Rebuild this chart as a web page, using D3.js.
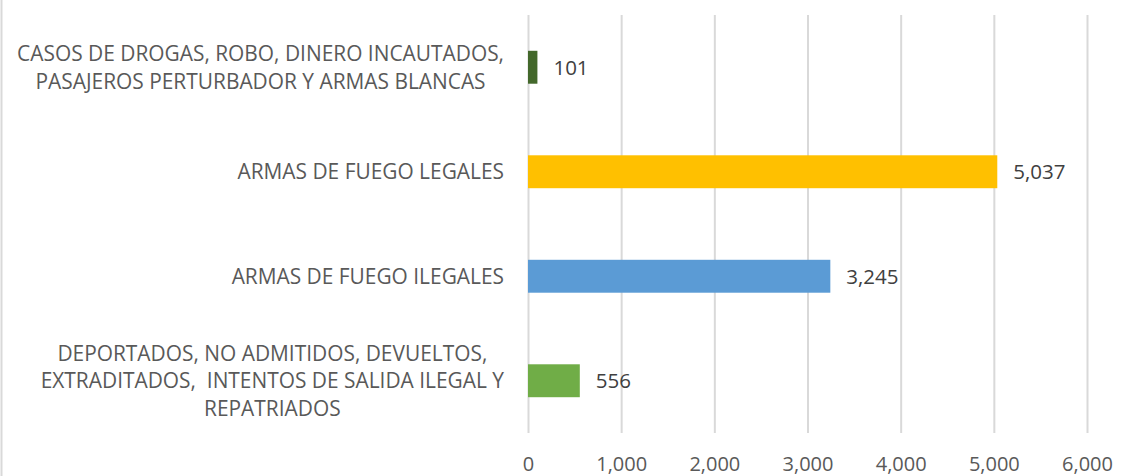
<!DOCTYPE html>
<html>
<head>
<meta charset="utf-8">
<script src="https://cdn.jsdelivr.net/npm/d3@7"></script>
<style>
  html, body { margin: 0; padding: 0; background: #ffffff; }
  svg { display: block; }
  text { font-family: "Open Sans", "Noto Sans", sans-serif; }
</style>
</head>
<body>
<svg id="chart" width="1137" height="476"></svg>
<script>
// Categories, top to bottom, each split into its display lines
const categories = [
  ["CASOS DE DROGAS, ROBO, DINERO INCAUTADOS,", "PASAJEROS PERTURBADOR Y ARMAS BLANCAS"],
  ["ARMAS DE FUEGO LEGALES"],
  ["ARMAS DE FUEGO ILEGALES"],
  ["DEPORTADOS, NO ADMITIDOS, DEVUELTOS,", "EXTRADITADOS,  INTENTOS DE SALIDA ILEGAL Y", "REPATRIADOS"]
];
const values = [101, 5037, 3245, 556];
const barColors = ["#43682b", "#ffc000", "#5b9bd5", "#70ad47"];
const tickValues = [0, 1000, 2000, 3000, 4000, 5000, 6000];

const W = 1137, H = 476;
const plot = { left: 528, right: 1087, top: 15, bottom: 433 };

const svg = d3.select("#chart");

const x = d3.scaleLinear().domain([0, 6000]).range([plot.left, plot.right]);
const y = d3.scaleBand()
  .domain(d3.range(categories.length))
  .range([plot.top, plot.bottom])
  .paddingInner(0.685)
  .paddingOuter(0.3425);

const fmt = d3.format(",");

// chart frame edge on the left
svg.append("line")
  .attr("x1", 1.5).attr("x2", 1.5).attr("y1", 0).attr("y2", H)
  .attr("stroke", "#d9d9d9").attr("stroke-width", 2);

// vertical gridlines and value axis labels
const xAxis = d3.axisBottom(x)
  .tickValues(tickValues)
  .tickSize(-(plot.bottom - plot.top))
  .tickFormat(fmt);

const gx = svg.append("g")
  .attr("transform", `translate(0,${plot.bottom})`)
  .call(xAxis);
gx.select(".domain").remove();
gx.selectAll(".tick line").attr("stroke", "#d9d9d9").attr("stroke-width", 2);
gx.selectAll(".tick text")
  .attr("y", 38)
  .attr("dy", 0)
  .attr("fill", "#595959")
  .style("font-size", "20px");

// bars
svg.append("g").selectAll("rect")
  .data(values)
  .join("rect")
  .attr("x", x(0))
  .attr("y", (d, i) => y(i))
  .attr("width", d => x(d) - x(0))
  .attr("height", y.bandwidth())
  .attr("fill", (d, i) => barColors[i]);

// value labels
svg.append("g").selectAll("text")
  .data(values)
  .join("text")
  .attr("x", d => x(d) + 16)
  .attr("y", (d, i) => y(i) + y.bandwidth() / 2)
  .attr("dy", "0.36em")
  .attr("fill", "#404040")
  .style("font-size", "20.5px")
  .text(d => fmt(d));

// category labels: lines centred within a block that ends just left of the axis
const labelRight = 504;
const lineH = 27.5;
const gl = svg.append("g");
categories.forEach((lines, i) => {
  const cy = y(i) + y.bandwidth() / 2;
  const t = gl.append("text")
    .attr("fill", "#595959")
    .style("font-size", "20.9px");
  const spans = lines.map((ln, k) => t.append("tspan")
    .attr("y", cy + (k - (lines.length - 1) / 2) * lineH)
    .attr("dy", "0.36em")
    .style("white-space", "pre")
    .attr("xml:space", "preserve")
    .text(ln));
  const widths = spans.map(s => s.node().getComputedTextLength());
  const maxW = d3.max(widths);
  const cx = labelRight - maxW / 2;
  spans.forEach(s => s.attr("x", cx).attr("text-anchor", "middle"));
});
</script>
</body>
</html>
